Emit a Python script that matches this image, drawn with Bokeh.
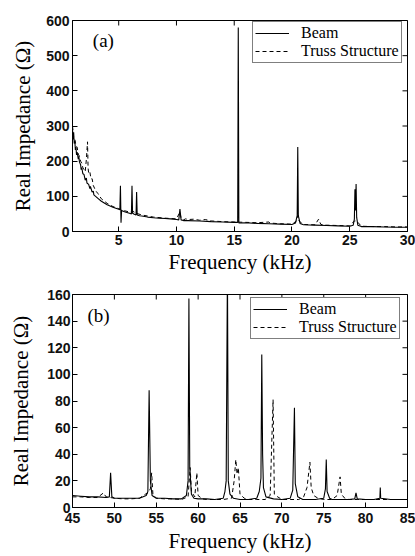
import math
from bokeh.plotting import figure
from bokeh.models import Range1d, FixedTicker, Label, Legend
from bokeh.layouts import column
from bokeh.embed import file_html
from bokeh.resources import INLINE

# ---------------- data: panel (a), 1-30 kHz ----------------
a_beam_f = [1.0, 1.05, 1.1, 1.15, 1.2, 1.25, 1.3, 1.35, 1.4, 1.5, 1.55, 1.6, 1.7, 1.75, 1.8, 1.9,
            2.0, 2.1, 2.2, 2.25, 2.4, 2.5, 2.55, 2.7, 2.8, 2.85, 3.0, 3.25, 3.5, 3.75, 4.0, 4.5, 5.0,
            5.1, 5.15, 5.2, 5.25, 5.5, 6.0, 6.1, 6.15, 6.2, 6.35, 6.5, 6.55, 6.6, 6.8, 7.0, 7.5, 8.0,
            8.5, 9.0, 9.5, 10.0, 10.2, 10.3, 10.4, 10.6, 11.0, 12.0, 13.0, 14.0, 15.0, 15.3, 15.35,
            15.4, 16.0, 17.0, 18.0, 19.0, 20.0, 20.3, 20.45, 20.5, 20.55, 20.7, 21.0, 22.0, 23.0,
            24.0, 25.0, 25.3, 25.4, 25.45, 25.5, 25.55, 25.6, 25.7, 26.0, 27.0, 28.0, 29.0, 30.0]
a_beam_v = [292, 262, 282, 250, 258, 232, 240, 218, 226, 206, 214, 198, 190, 176, 182, 164,
            162, 146, 152, 138, 134, 122, 128, 112, 115, 104, 100, 93, 86, 81, 76, 69, 63,
            62, 130, 25, 60, 56, 51, 50, 130, 52, 49, 47, 112, 47, 45, 44, 41, 39,
            38, 37, 36, 34, 33, 64, 33, 31, 31, 30, 28, 27, 26, 26, 580,
            24, 25, 23, 22, 21, 20, 24, 45, 240, 45, 23, 19, 18, 17,
            16, 15, 18, 35, 120, 60, 135, 40, 18, 14, 14, 13, 12, 12]

a_truss_f = [1.0, 1.1, 1.2, 1.3, 1.4, 1.5, 1.6, 1.7, 1.8, 1.9, 2.0, 2.1, 2.2, 2.3, 2.35, 2.4, 2.5,
             2.6, 2.7, 2.8, 3.0, 3.2, 3.5, 4.0, 4.5, 5.0, 5.5, 6.0, 6.2, 6.5, 7.0, 7.5, 8.0, 9.0,
             10.0, 10.3, 10.4, 10.6, 10.8, 11.0, 11.5, 12.0, 12.5, 13.0, 14.0, 15.0, 16.0, 17.0,
             18.0, 18.1, 19.0, 20.0, 20.4, 20.5, 20.6, 21.0, 22.0, 22.3, 22.5, 23.0, 24.0, 25.0,
             25.4, 25.6, 26.0, 27.0, 28.0, 29.0, 30.0]
a_truss_v = [300, 268, 262, 244, 240, 220, 214, 200, 195, 181, 176, 170, 205, 255, 180, 166, 170,
             150, 150, 131, 116, 108, 93, 80, 71, 65, 59, 55, 58, 52, 47, 44, 41, 38,
             36, 55, 38, 33, 36, 34, 35, 32, 34, 30, 28, 27, 26, 25,
             27, 24, 22, 21, 30, 45, 30, 20, 19, 35, 20, 18, 17, 16,
             30, 30, 15, 14, 14, 13, 13]

a_xticks = [5, 10, 15, 20, 25, 30]
a_yticks = [0, 100, 200, 300, 400, 500, 600]

# ---------------- data: panel (b), 45-85 kHz ----------------
b_beam_f = [45, 46, 47, 48, 49, 49.4, 49.55, 49.7, 50, 51, 52, 53, 53.8, 54.0, 54.15, 54.3, 54.5,
            55, 56, 57, 58, 58.6, 58.8, 58.9, 59.0, 59.2, 59.5, 60, 61, 62, 63, 63.2, 63.35, 63.5,
            63.6, 63.8, 64.2, 65, 66, 67, 67.3, 67.5, 67.6, 67.7, 67.8, 68.1, 69, 70, 71, 71.3,
            71.5, 71.6, 71.9, 72.5, 73, 74, 75, 75.2, 75.3, 75.4, 75.7, 76, 77, 78, 78.7, 78.85,
            79, 80, 81, 81.7, 81.75, 81.8, 83, 84, 85]
b_beam_v = [9, 8.5, 8, 8, 7.5, 8, 26, 8, 7, 7, 7, 7, 9, 12, 88, 20, 9,
            7, 7, 6.5, 6.5, 9, 20, 157, 30, 10, 7, 6.5, 6.5, 6, 7, 12, 20, 180,
            20, 10, 7, 6, 6, 7, 12, 22, 115, 40, 15, 8, 6.5, 6, 7, 13,
            75, 18, 8, 6, 6, 6, 7, 14, 36, 12, 7, 6, 6, 6, 6.5, 11,
            6.5, 6, 6, 7, 15, 7, 6, 6, 6]

b_truss_f = [45, 46, 47, 48, 48.7, 49, 50, 51, 52, 53, 53.7, 54.0, 54.3, 54.45, 54.6, 55, 56, 57,
             58, 58.8, 59.05, 59.2, 59.6, 59.85, 60.0, 60.5, 61, 62, 63, 64, 64.3, 64.5, 64.65,
             64.8, 65, 65.5, 66, 67, 68, 68.6, 68.95, 69.1, 69.5, 70, 71, 72, 72.6, 73, 73.35,
             73.5, 73.8, 74.3, 75, 76, 76.6, 76.95, 77.1, 77.5, 78, 79, 80, 81, 82, 83, 84, 85]
b_truss_v = [8, 8, 7.5, 7.5, 11, 8, 7, 6.5, 6.5, 7, 10, 11, 14, 26, 10, 7, 6.5, 6.5,
             6, 8, 30, 12, 8, 26, 9, 6.5, 6, 6, 6, 7, 20, 36, 25,
             30, 10, 7, 6, 6, 6, 9, 81, 10, 8, 6, 6, 6, 8, 15, 34,
             15, 9, 7, 6, 6, 9, 23, 10, 7, 6, 6, 6, 6, 6, 6, 6, 6]

b_xticks = [45, 50, 55, 60, 65, 70, 75, 80, 85]
b_yticks = [0, 20, 40, 60, 80, 100, 120, 140, 160]

series_names = ["Beam", "Truss Structure"]
panel_tags = ["(a)", "(b)"]

TICK_FONT = "Liberation Sans"
SERIF = "Liberation Serif"


def make_panel(height, bl, br, bt, bb, xr, yr, xticks, yticks, bf, bv, tf, tv,
               tag, tag_xy, leg_loc, leg_pad, leg_spacing,
               ylab_standoff, ytick_standoff, xtick_standoff, xlab_standoff):
    p = figure(width=415, height=height, output_backend="svg", toolbar_location=None,
               x_range=Range1d(*xr), y_range=Range1d(*yr),
               min_border_left=bl, min_border_right=br, min_border_top=bt, min_border_bottom=bb)
    p.grid.visible = False
    p.outline_line_color = "black"
    p.outline_line_width = 1
    p.background_fill_color = "white"
    p.border_fill_color = "white"

    r1 = p.line(bf, bv, line_color="black", line_width=1.1)
    r2 = p.line(tf, tv, line_color="black", line_width=1.0, line_dash="4 3")

    # inward box ticks on the top and right edges (clipped to the frame)
    p.scatter(x=xticks, y=[yr[1]] * len(xticks), marker="dash", angle=math.pi / 2,
              size=10, line_color="black", line_width=1)
    p.scatter(x=[xr[1]] * len(yticks), y=yticks, marker="dash",
              size=10, line_color="black", line_width=1)

    for ax, ticks in ((p.xaxis[0], xticks), (p.yaxis[0], yticks)):
        ax.ticker = FixedTicker(ticks=ticks)
        ax.major_tick_in = 5
        ax.major_tick_out = 0
        ax.minor_tick_line_color = None
        ax.axis_line_color = "black"
        ax.major_tick_line_color = "black"
        ax.major_label_text_font = TICK_FONT
        ax.major_label_text_font_size = "14px"
        ax.major_label_text_font_style = "bold"
        ax.major_label_text_color = "#111111"
        ax.axis_label_text_font = SERIF
        ax.axis_label_text_font_style = "normal"
        ax.axis_label_text_color = "black"

    p.xaxis[0].axis_label = "Frequency (kHz)"
    p.xaxis[0].axis_label_text_font_size = "21px"
    p.xaxis[0].major_label_standoff = xtick_standoff
    p.xaxis[0].axis_label_standoff = xlab_standoff
    p.yaxis[0].axis_label = "Real Impedance (Ω)"
    p.yaxis[0].axis_label_text_font_size = "21px"
    p.yaxis[0].major_label_standoff = ytick_standoff
    p.yaxis[0].axis_label_standoff = ylab_standoff

    p.add_layout(Label(x=tag_xy[0], y=tag_xy[1], text=tag, text_font=SERIF,
                       text_font_size="19px", text_align="center", text_baseline="middle",
                       text_color="black"))

    leg = Legend(items=[(series_names[0], [r1]), (series_names[1], [r2])], location=leg_loc,
                 border_line_color="black", border_line_width=1, background_fill_alpha=1,
                 label_text_font=SERIF, label_text_font_size="16px", label_text_color="black",
                 label_text_line_height=1.0,
                 padding=leg_pad, spacing=leg_spacing, margin=0, glyph_width=34, glyph_height=12,
                 label_height=12, label_standoff=12)
    p.add_layout(leg)
    return p


p1 = make_panel(276, 72, 7, 20, 45, (1, 30), (0, 600), a_xticks, a_yticks,
                a_beam_f, a_beam_v, a_truss_f, a_truss_v,
                panel_tags[0], (3.67, 543), (180, 168), 2, -6,
                8, 3, 3, 2)
p2 = make_panel(280, 69, 8, 18, 49, (45, 85), (0, 160), b_xticks, b_yticks,
                b_beam_f, b_beam_v, b_truss_f, b_truss_v,
                panel_tags[1], (48.1, 144), (178, 168), 2, -3,
                11, 2, 5, 3)

layout = column(p1, p2, spacing=0)
open("out.html", "w").write(file_html(layout, INLINE))
